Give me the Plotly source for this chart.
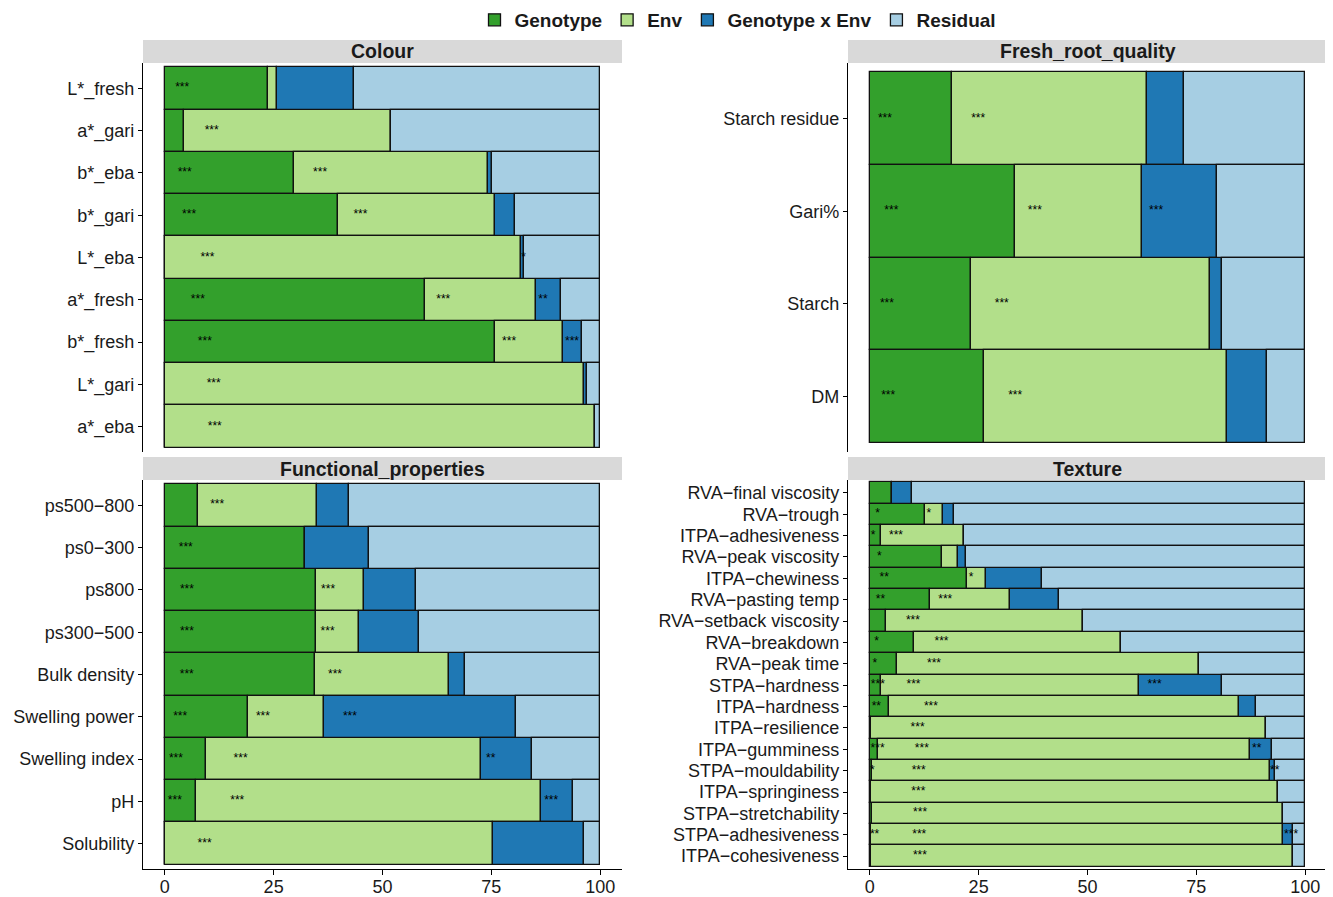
import plotly.graph_objects as go

components = ["Genotype", "Env", "Genotype x Env", "Residual"]
comp_colors = ["#33A02C", "#B2DF8A", "#1F78B4", "#A6CEE3"]

# ---- Colour ----
colour_traits = ["L*_fresh", "a*_gari", "b*_eba", "b*_gari", "L*_eba",
                 "a*_fresh", "b*_fresh", "L*_gari", "a*_eba"]
colour_G = [23.8, 4.4, 29.6, 39.7, 0.0, 59.8, 75.9, 0.0, 0.0]
colour_E = [1.9, 47.6, 44.6, 36.2, 81.8, 25.4, 15.6, 96.3, 98.7]
colour_GxE = [17.7, 0.0, 0.9, 4.5, 0.7, 5.8, 4.2, 0.6, 0.0]
colour_R = [56.6, 48.0, 24.9, 19.6, 17.5, 9.0, 4.3, 3.1, 1.3]
colour_sig_G = ["***", "", "***", "***", "", "***", "***", "", ""]
colour_sig_E = ["", "***", "***", "***", "***", "***", "***", "***", "***"]
colour_sig_GxE = ["", "", "", "", "*", "**", "***", "", ""]

# ---- Fresh_root_quality ----
fresh_traits = ["Starch residue", "Gari%", "Starch", "DM"]
fresh_G = [18.8, 33.4, 23.2, 26.2]
fresh_E = [44.8, 29.0, 55.0, 55.8]
fresh_GxE = [8.5, 17.4, 2.8, 9.2]
fresh_R = [27.9, 20.2, 19.0, 8.8]
fresh_sig_G = ["***", "***", "***", "***"]
fresh_sig_E = ["***", "***", "***", "***"]
fresh_sig_GxE = ["", "***", "", ""]

# ---- Functional_properties ----
func_traits = ["ps500\u2212800", "ps0\u2212300", "ps800", "ps300\u2212500", "Bulk density",
               "Swelling power", "Swelling index", "pH", "Solubility"]
func_G = [7.7, 32.1, 34.8, 34.8, 34.4, 19.2, 9.5, 7.1, 0.0]
func_E = [27.2, 0.0, 10.9, 9.9, 30.8, 17.3, 63.1, 79.3, 75.3]
func_GxE = [7.4, 14.8, 11.9, 13.7, 3.7, 44.1, 11.8, 7.3, 20.9]
func_R = [57.7, 53.1, 42.4, 41.6, 31.1, 19.4, 15.6, 6.3, 3.8]
func_sig_G = ["", "***", "***", "***", "***", "***", "***", "***", ""]
func_sig_E = ["***", "", "***", "***", "***", "***", "***", "***", "***"]
func_sig_GxE = ["", "", "", "", "", "***", "**", "***", ""]

# ---- Texture ----
tex_traits = ["RVA\u2212final viscosity", "RVA\u2212trough", "ITPA\u2212adhesiveness",
              "RVA\u2212peak viscosity", "ITPA\u2212chewiness", "RVA\u2212pasting temp",
              "RVA\u2212setback viscosity", "RVA\u2212breakdown", "RVA\u2212peak time",
              "STPA\u2212hardness", "ITPA\u2212hardness", "ITPA\u2212resilience",
              "ITPA\u2212gumminess", "STPA\u2212mouldability", "ITPA\u2212springiness",
              "STPA\u2212stretchability", "STPA\u2212adhesiveness", "ITPA\u2212cohesiveness"]
tex_G = [5.1, 12.6, 2.5, 16.7, 22.3, 13.9, 3.8, 10.1, 6.2, 2.5, 4.4, 0.3, 1.8, 0.5, 0.2, 0.5, 0.3, 0.2]
tex_E = [0.0, 4.3, 19.2, 3.6, 4.5, 18.2, 45.1, 47.7, 69.4, 59.4, 80.4, 90.8, 85.5, 91.3, 93.5, 94.4, 94.6, 97.1]
tex_GxE = [4.6, 2.4, 0.0, 1.8, 12.8, 11.3, 0.0, 0.0, 0.0, 18.9, 3.8, 0.0, 5.0, 1.3, 0.0, 0.0, 2.4, 0.0]
tex_R = [90.3, 80.7, 78.3, 77.9, 60.4, 56.6, 51.1, 42.2, 24.4, 19.2, 11.4, 8.9, 7.7, 6.9, 6.3, 5.1, 2.7, 2.7]
tex_sig_G = ["", "*", "*", "*", "**", "**", "", "*", "*", "***", "**", "", "***", "*", "", "", "**", ""]
tex_sig_E = ["", "*", "***", "", "*", "***", "***", "***", "***", "***", "***", "***", "***", "***",
             "***", "***", "***", "***"]
tex_sig_GxE = ["", "", "", "", "", "", "", "", "", "***", "", "", "**", "**", "", "", "***", ""]

x_ticks = [0, 25, 50, 75, 100]

OFF = 8                      # page body margin
W, H = 1333 - OFF, 897 - OFF
FONT = "Liberation Sans, Arial, Helvetica, sans-serif"


def fx(px):
    return min(1.0, max(0.0, (px - OFF) / W))


def fy(py):
    return min(1.0, max(0.0, 1 - (py - OFF) / H))


panels = [
    dict(title="Colour", traits=colour_traits,
         vals=[colour_G, colour_E, colour_GxE, colour_R],
         sigs=[colour_sig_G, colour_sig_E, colour_sig_GxE],
         ax="", px=(143, 622), py=(63, 452), bottom=False),
    dict(title="Fresh_root_quality", traits=fresh_traits,
         vals=[fresh_G, fresh_E, fresh_GxE, fresh_R],
         sigs=[fresh_sig_G, fresh_sig_E, fresh_sig_GxE],
         ax="2", px=(848, 1327), py=(63, 452), bottom=False),
    dict(title="Functional_properties", traits=func_traits,
         vals=[func_G, func_E, func_GxE, func_R],
         sigs=[func_sig_G, func_sig_E, func_sig_GxE],
         ax="3", px=(143, 622), py=(480, 869), bottom=True),
    dict(title="Texture", traits=tex_traits,
         vals=[tex_G, tex_E, tex_GxE, tex_R],
         sigs=[tex_sig_G, tex_sig_E, tex_sig_GxE],
         ax="4", px=(848, 1327), py=(480, 869), bottom=True),
]

fig = go.Figure()
layout_axes = {}
shapes = []
annotations = []

for pi, p in enumerate(panels):
    xref = "x" + p["ax"]
    yref = "y" + p["ax"]
    n = len(p["traits"])
    starts = [0.0] * n
    for ci, comp in enumerate(components):
        vals = p["vals"][ci]
        fig.add_trace(go.Bar(
            y=p["traits"], x=vals, base=starts[:], orientation="h",
            name=comp, legendgroup=comp, showlegend=(pi == 0),
            marker=dict(color=comp_colors[ci], line=dict(color="#111111", width=1.3)),
            xaxis=xref, yaxis=yref, hoverinfo="skip",
        ))
        if ci < 3:
            sig = p["sigs"][ci]
            tx, ty, tt = [], [], []
            for k in range(n):
                if sig[k]:
                    tx.append(starts[k] + 0.1 * vals[k])
                    ty.append(p["traits"][k])
                    tt.append(sig[k])
            if tt:
                fig.add_trace(go.Scatter(
                    x=tx, y=ty, text=tt, mode="text", textposition="middle right",
                    textfont=dict(size=12, color="black", family=FONT),
                    showlegend=False, xaxis=xref, yaxis=yref, hoverinfo="skip",
                ))
        starts = [s + v for s, v in zip(starts, vals)]

    x0, x1 = p["px"]
    y0, y1 = p["py"]
    xkey = "xaxis" + p["ax"]
    ykey = "yaxis" + p["ax"]
    layout_axes[xkey] = dict(
        domain=[fx(x0), fx(x1)], anchor=yref, range=[-5, 105],
        tickmode="array", tickvals=x_ticks, ticktext=[str(t) for t in x_ticks],
        showline=p["bottom"], linecolor="black", linewidth=1.2,
        ticks="outside" if p["bottom"] else "", ticklen=5, tickcolor="black",
        ticklabelstandoff=-4,
        showticklabels=p["bottom"], tickfont=dict(size=18, color="#1a1a1a", family=FONT),
        showgrid=False, zeroline=False, fixedrange=True,
    )
    layout_axes[ykey] = dict(
        domain=[fy(y1), fy(y0)], anchor=xref, type="category",
        categoryorder="array", categoryarray=p["traits"],
        tickmode="array", tickvals=p["traits"], ticktext=p["traits"],
        range=[n - 0.4, -0.6],
        showline=True, linecolor="black", linewidth=1.2,
        ticks="outside", ticklen=4, tickcolor="black",
        tickfont=dict(size=18, color="#1a1a1a", family=FONT),
        showgrid=False, zeroline=False, fixedrange=True,
    )
    # strip
    sy0, sy1 = y0 - 23, y0
    shapes.append(dict(type="rect", xref="paper", yref="paper",
                       x0=fx(x0), x1=fx(x1), y0=fy(sy1), y1=fy(sy0),
                       fillcolor="#D9D9D9", line=dict(width=0), layer="below"))
    annotations.append(dict(xref="paper", yref="paper", x=fx((x0 + x1) / 2),
                            y=fy((sy0 + sy1) / 2), text="<b>" + p["title"] + "</b>",
                            showarrow=False, xanchor="center", yanchor="middle",
                            font=dict(size=19.5, color="#1a1a1a", family=FONT)))

fig.update_layout(
    width=W, height=H,
    margin=dict(l=0, r=0, t=0, b=0, autoexpand=False),
    paper_bgcolor="white", plot_bgcolor="white",
    barmode="overlay", bargap=0,
    font=dict(family=FONT, color="#1a1a1a"),
    shapes=shapes, annotations=annotations,
    legend=dict(orientation="h", x=fx(738), xanchor="center", y=fy(20), yanchor="middle",
                font=dict(size=19, color="#1a1a1a", family=FONT, weight="bold"),
                itemclick=False, itemdoubleclick=False, traceorder="normal",
                bgcolor="rgba(0,0,0,0)"),
    **layout_axes,
)

fig.write_html("out.html")
